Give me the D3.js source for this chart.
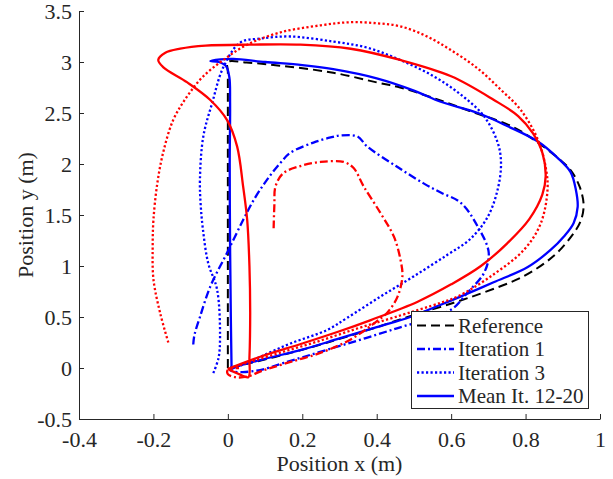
<!DOCTYPE html>
<html>
<head>
<meta charset="utf-8">
<script src="https://cdn.jsdelivr.net/npm/d3@7"></script>
<style>
  body { margin: 0; background: #fff; }
  svg text { font-family: "Liberation Serif", "Times New Roman", serif; fill: #262626; }
</style>
</head>
<body>
<div id="chart"></div>
<script>
// axis ticks
var xTicks = [-0.4, -0.2, 0, 0.2, 0.4, 0.6, 0.8, 1];
var yTicks = [-0.5, 0, 0.5, 1, 1.5, 2, 2.5, 3, 3.5];

// reference trajectory [x, y] (m)
var reference = [[0,0],[0,1.5],[0,2.9],[0,3.0],[0.05,2.995],[0.15,2.96],[0.283,2.895],[0.4,2.80],[0.463,2.75],
  [0.55,2.65],[0.65,2.52],[0.768,2.36],[0.833,2.21],[0.89,2.05],[0.921,1.94],[0.945,1.78],[0.956,1.6],
  [0.948,1.44],[0.925,1.30],[0.876,1.10],[0.795,0.90],[0.687,0.74],[0.607,0.64],[0.5,0.52],[0.4,0.40],
  [0.268,0.25],[0.15,0.13],[0.05,0.04],[0,0]];

// blue runs
var blueIter1 = [[-0.093,0.23],[-0.09,0.32],[-0.075,0.50],[-0.047,0.80],[-0.002,1.13],[0.041,1.45],[0.07,1.65],
  [0.106,1.85],[0.141,2.01],[0.168,2.11],[0.23,2.21],[0.276,2.26],[0.303,2.28],[0.348,2.27],[0.375,2.17],
  [0.456,1.97],[0.526,1.81],[0.572,1.72],[0.626,1.62],[0.671,1.39],[0.701,1.13],[0.688,0.93],[0.644,0.74],
  [0.599,0.57],[0.446,0.38],[0.268,0.18],[0.15,0.05],[0.087,-0.02],[0.04,-0.04],[0.015,-0.035],[0.005,-0.02]];
var blueIter3 = [[-0.039,-0.05],[-0.025,0.10],[-0.021,0.307],[-0.029,0.77],[-0.053,1.03],[-0.067,1.36],[-0.073,1.6],
  [-0.075,1.85],[-0.066,2.27],[-0.042,2.60],[-0.012,2.95],[0.033,3.19],[0.087,3.23],[0.168,3.25],[0.284,3.20],
  [0.375,3.14],[0.463,3.02],[0.553,2.86],[0.626,2.68],[0.688,2.47],[0.725,2.21],[0.734,2.01],[0.725,1.75],
  [0.698,1.48],[0.65,1.26],[0.59,1.11],[0.50,0.90],[0.41,0.70],[0.32,0.49],[0.268,0.375],[0.168,0.24],
  [0.087,0.11],[0.02,0.0]];
var blueMean = [[0.01,-0.01],[0.008,0.5],[0.006,1.2],[0.005,2.0],[0.006,2.6],[0.004,2.85],[-0.005,2.96],[-0.025,3.0],
  [-0.047,3.01],[-0.02,3.025],[0.015,3.03],[0.1,3.0],[0.2,2.97],[0.283,2.93],[0.4,2.84],[0.5,2.72],[0.572,2.61],
  [0.672,2.50],[0.752,2.37],[0.833,2.22],[0.886,2.06],[0.921,1.92],[0.935,1.75],[0.940,1.58],[0.929,1.42],
  [0.903,1.29],[0.868,1.16],[0.806,0.99],[0.714,0.84],[0.625,0.70],[0.572,0.62],[0.49,0.50],[0.4,0.40],
  [0.3,0.29],[0.2,0.18],[0.1,0.09],[0.03,0.02],[0.01,-0.01]];

// red runs
var redIter1 = [[0.123,1.37],[0.125,1.6],[0.128,1.78],[0.149,1.91],[0.195,1.98],[0.249,2.02],[0.311,2.02],[0.338,1.96],
  [0.365,1.78],[0.41,1.52],[0.446,1.29],[0.464,1.06],[0.469,0.90],[0.456,0.70],[0.43,0.55],[0.39,0.43],
  [0.33,0.28],[0.25,0.15],[0.15,0.04],[0.09,-0.03],[0.052,-0.085],[0.02,-0.09],[0.0,-0.06],[0.0,-0.02],[0.03,0.0]];
var redIter3 = [[-0.16,0.25],[-0.182,0.54],[-0.20,0.87],[-0.202,1.2],[-0.2,1.45],[-0.19,1.8],[-0.174,2.11],
  [-0.147,2.43],[-0.11,2.66],[-0.066,2.86],[-0.012,3.02],[0.052,3.17],[0.141,3.29],[0.25,3.36],[0.329,3.39],
  [0.40,3.38],[0.463,3.35],[0.53,3.26],[0.598,3.12],[0.67,2.94],[0.733,2.73],[0.787,2.53],[0.833,2.24],
  [0.854,1.97],[0.859,1.75],[0.841,1.42],[0.796,1.16],[0.707,0.90],[0.617,0.70],[0.572,0.64],[0.45,0.50],
  [0.35,0.39],[0.25,0.27],[0.15,0.16],[0.05,0.05],[0.0,-0.01]];
var redMean = [[0.0,-0.01],[0.087,0.11],[0.2,0.24],[0.3,0.36],[0.384,0.47],[0.51,0.65],[0.6,0.82],[0.68,1.0],
  [0.75,1.22],[0.81,1.46],[0.845,1.7],[0.854,1.88],[0.846,2.1],[0.82,2.3],[0.78,2.47],[0.714,2.63],[0.6,2.86],
  [0.463,3.02],[0.33,3.13],[0.195,3.17],[0.06,3.17],[-0.06,3.16],[-0.128,3.13],[-0.168,3.09],[-0.187,3.02],
  [-0.174,2.95],[-0.109,2.80],[-0.048,2.63],[-0.002,2.43],[0.025,2.17],[0.041,1.78],[0.052,1.45],[0.058,1.0],
  [0.060,0.54],[0.058,0.1],[0.055,-0.09],[0.03,-0.06],[0.0,-0.01]];

var legendNames = ["Reference", "Iteration 1", "Iteration 3", "Mean It. 12-20"];

var W = 613, H = 479;
var plotL = 79, plotR = 600, plotT = 11, plotB = 419;

var x = d3.scaleLinear().domain([-0.4, 1]).range([plotL, plotR]);
var y = d3.scaleLinear().domain([-0.5, 3.5]).range([plotB, plotT]);

var svg = d3.select("#chart").append("svg").attr("width", W).attr("height", H);

// line styles
var DASH = "9,5", DASHDOT = "8,3,2,3", DOT = "2.2,2.3";
var series = [
  {d: reference, c: "#000", w: 2, dash: DASH},
  {d: blueIter1, c: "#0000ff", w: 2.3, dash: DASHDOT},
  {d: blueIter3, c: "#0000ff", w: 2.3, dash: DOT},
  {d: blueMean, c: "#0000ff", w: 2.3, dash: null},
  {d: redIter1, c: "#ff0000", w: 2.3, dash: DASHDOT},
  {d: redIter3, c: "#ff0000", w: 2.3, dash: DOT},
  {d: redMean, c: "#ff0000", w: 2.3, dash: null}
];

var line = d3.line()
  .x(function(p){ return x(p[0]); })
  .y(function(p){ return y(p[1]); })
  .curve(d3.curveCatmullRom.alpha(0.5));

svg.append("g").selectAll("path")
  .data(series).enter()
  .append("path")
  .attr("d", function(s){ return line(s.d); })
  .attr("fill", "none")
  .attr("stroke", function(s){ return s.c; })
  .attr("stroke-width", function(s){ return s.w; })
  .attr("stroke-dasharray", function(s){ return s.dash; })
  .attr("stroke-linejoin", "round");

// matlab-like labels: plain hyphen, no trailing zeros
function fmt(v){ return String(+v.toFixed(1)).replace("\u2212", "-"); }

// axes (ticks inward)
var xAxis = d3.axisBottom(x).tickValues(xTicks).tickSizeInner(-5).tickSizeOuter(0).tickPadding(12).tickFormat(fmt);
var yAxis = d3.axisLeft(y).tickValues(yTicks).tickSizeInner(-5).tickSizeOuter(0).tickPadding(7).tickFormat(fmt);

var gx = svg.append("g").attr("transform", "translate(0," + plotB + ")").call(xAxis);
var gy = svg.append("g").attr("transform", "translate(" + plotL + ",0)").call(yAxis);
[gx, gy].forEach(function(g){
  g.selectAll("path, line").attr("stroke", "#262626");
  g.selectAll("text").style("font-size", "22px").attr("fill", "#262626")
   .style("font-family", "'Liberation Serif', serif");
});

svg.append("text")
  .attr("x", (plotL + plotR) / 2).attr("y", 471)
  .attr("text-anchor", "middle").style("font-size", "22px")
  .text("Position x (m)");
svg.append("text")
  .attr("transform", "translate(33," + ((plotT + plotB) / 2) + ") rotate(-90)")
  .attr("text-anchor", "middle").style("font-size", "22px")
  .text("Position y (m)");

// legend
var lg = svg.append("g");
lg.append("rect").attr("x", 411.5).attr("y", 311.5).attr("width", 177).attr("height", 97)
  .attr("fill", "#fff").attr("stroke", "#262626").attr("stroke-width", 1);
var rows = lg.selectAll(".row").data(series.slice(0, 4)).enter().append("g")
  .attr("transform", function(s, i){ return "translate(0," + (325.5 + i * 23.5) + ")"; });
rows.append("line").attr("x1", 417).attr("x2", 454).attr("y1", 0).attr("y2", 0)
  .attr("stroke", function(s){ return s.c; })
  .attr("stroke-width", function(s){ return s.w; })
  .attr("stroke-dasharray", function(s){ return s.dash; });
rows.append("text").attr("x", 458).attr("y", 0).attr("dy", "0.35em")
  .style("font-size", "21px")
  .text(function(s, i){ return legendNames[i]; });
</script>
</body>
</html>
